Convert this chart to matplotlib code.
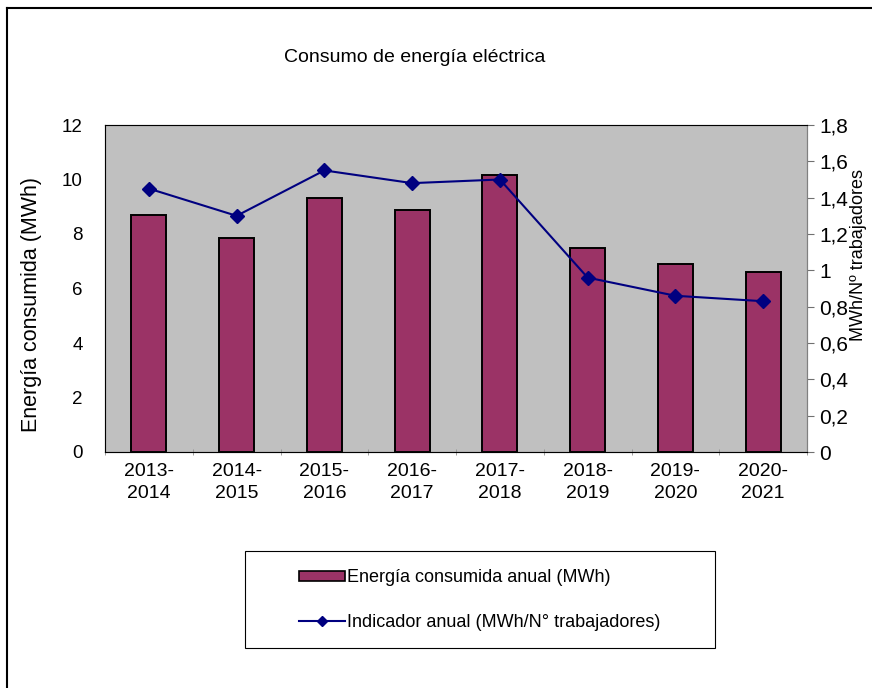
import matplotlib
matplotlib.use('Agg')
import matplotlib.pyplot as plt
from matplotlib.lines import Line2D
from matplotlib.patches import Rectangle
import numpy as np

plt.rcParams['font.family'] = ['Liberation Sans', 'DejaVu Sans']

periods = ['2013-\n2014', '2014-\n2015', '2015-\n2016', '2016-\n2017',
           '2017-\n2018', '2018-\n2019', '2019-\n2020', '2020-\n2021']
energy = [8.70, 7.85, 9.33, 8.88, 10.17, 7.47, 6.90, 6.62]
indicator = [1.45, 1.30, 1.55, 1.48, 1.50, 0.96, 0.86, 0.83]
left_ticks = [0, 2, 4, 6, 8, 10, 12]
right_ticks = [0, 0.2, 0.4, 0.6, 0.8, 1.0, 1.2, 1.4, 1.6, 1.8]
right_labels = ['0', '0,2', '0,4', '0,6', '0,8', '1', '1,2', '1,4', '1,6', '1,8']

W, H = 872, 688
fig = plt.figure(figsize=(W / 100, H / 100), dpi=100)

# axes box in pixels: x 105..807, y 125..452
ax = fig.add_axes([105 / W, 1 - 452 / H, 702 / W, 327 / H])
ax.set_facecolor('#c0c0c0')

x = np.arange(len(periods))
ax.bar(x, energy, width=0.4, color='#9b3366', edgecolor='black', linewidth=1.4, zorder=2)
ax.set_xlim(-0.5, len(periods) - 0.5)
ax.set_ylim(0, 12)
ax.set_yticks(left_ticks)
ax.set_yticklabels([str(t) for t in left_ticks])
ax.tick_params(axis='y', length=0, labelsize=13.5, pad=16)

ax.set_xticks(x)
ax.set_xticklabels(periods, fontsize=14, linespacing=1.35)
ax.tick_params(axis='x', length=0, pad=8)
ax.set_xticks(np.arange(len(periods) + 1) - 0.5, minor=True)
ax.tick_params(axis='x', which='minor', length=5, direction='inout', color='#909090')

for side in ['top', 'left', 'right']:
    ax.spines[side].set_color('#808080')
ax.spines['bottom'].set_color('#707070')

ax2 = ax.twinx()
ax2.plot(x, indicator, color='#000080', lw=1.5, marker='D', markersize=7.5, zorder=3)
ax2.set_ylim(0, 1.8)
ax2.set_yticks(right_ticks)
ax2.set_yticklabels(right_labels)
ax2.tick_params(axis='y', length=5, color='#707070', labelsize=15, pad=4)
ax2.spines['right'].set_color('#808080')

fig.text(415 / W, 1 - 58 / H, 'Consumo de energía eléctrica', fontsize=14,
         ha='center', va='center')
fig.text(32 / W, 1 - 305 / H, 'Energía consumida (MWh)', fontsize=15.5,
         rotation=90, ha='center', va='center')
fig.text(858 / W, 1 - 255 / H, 'MWh/Nº trabajadores', fontsize=13,
         rotation=90, ha='center', va='center')

# legend box
fig.patches.append(Rectangle((245 / W, 1 - 648 / H), 470 / W, 97 / H,
                             transform=fig.transFigure, facecolor='white',
                             edgecolor='black', linewidth=0.8))
handles = [Rectangle((0, 0), 1, 1, facecolor='#9b3366', edgecolor='black', linewidth=1.2),
           Line2D([], [], color='#000080', lw=1.5, marker='D', markersize=5)]
fig.legend(handles, ['Energía consumida anual (MWh)',
                     'Indicador anual (MWh/N° trabajadores)'],
           loc='center', bbox_to_anchor=(480 / W, 1 - 600 / H), frameon=False,
           fontsize=13, labelspacing=1.5, handlelength=2.5, handletextpad=0.15,
           handleheight=0.5)

# partial outer border
fig.add_artist(Line2D([7 / W, 1], [1 - 8 / H, 1 - 8 / H], color='black', lw=1.5,
                      transform=fig.transFigure))
fig.add_artist(Line2D([7 / W, 7 / W], [0, 1 - 8 / H], color='black', lw=1.5,
                      transform=fig.transFigure))

fig.savefig('out.png', dpi=100, facecolor='white')
